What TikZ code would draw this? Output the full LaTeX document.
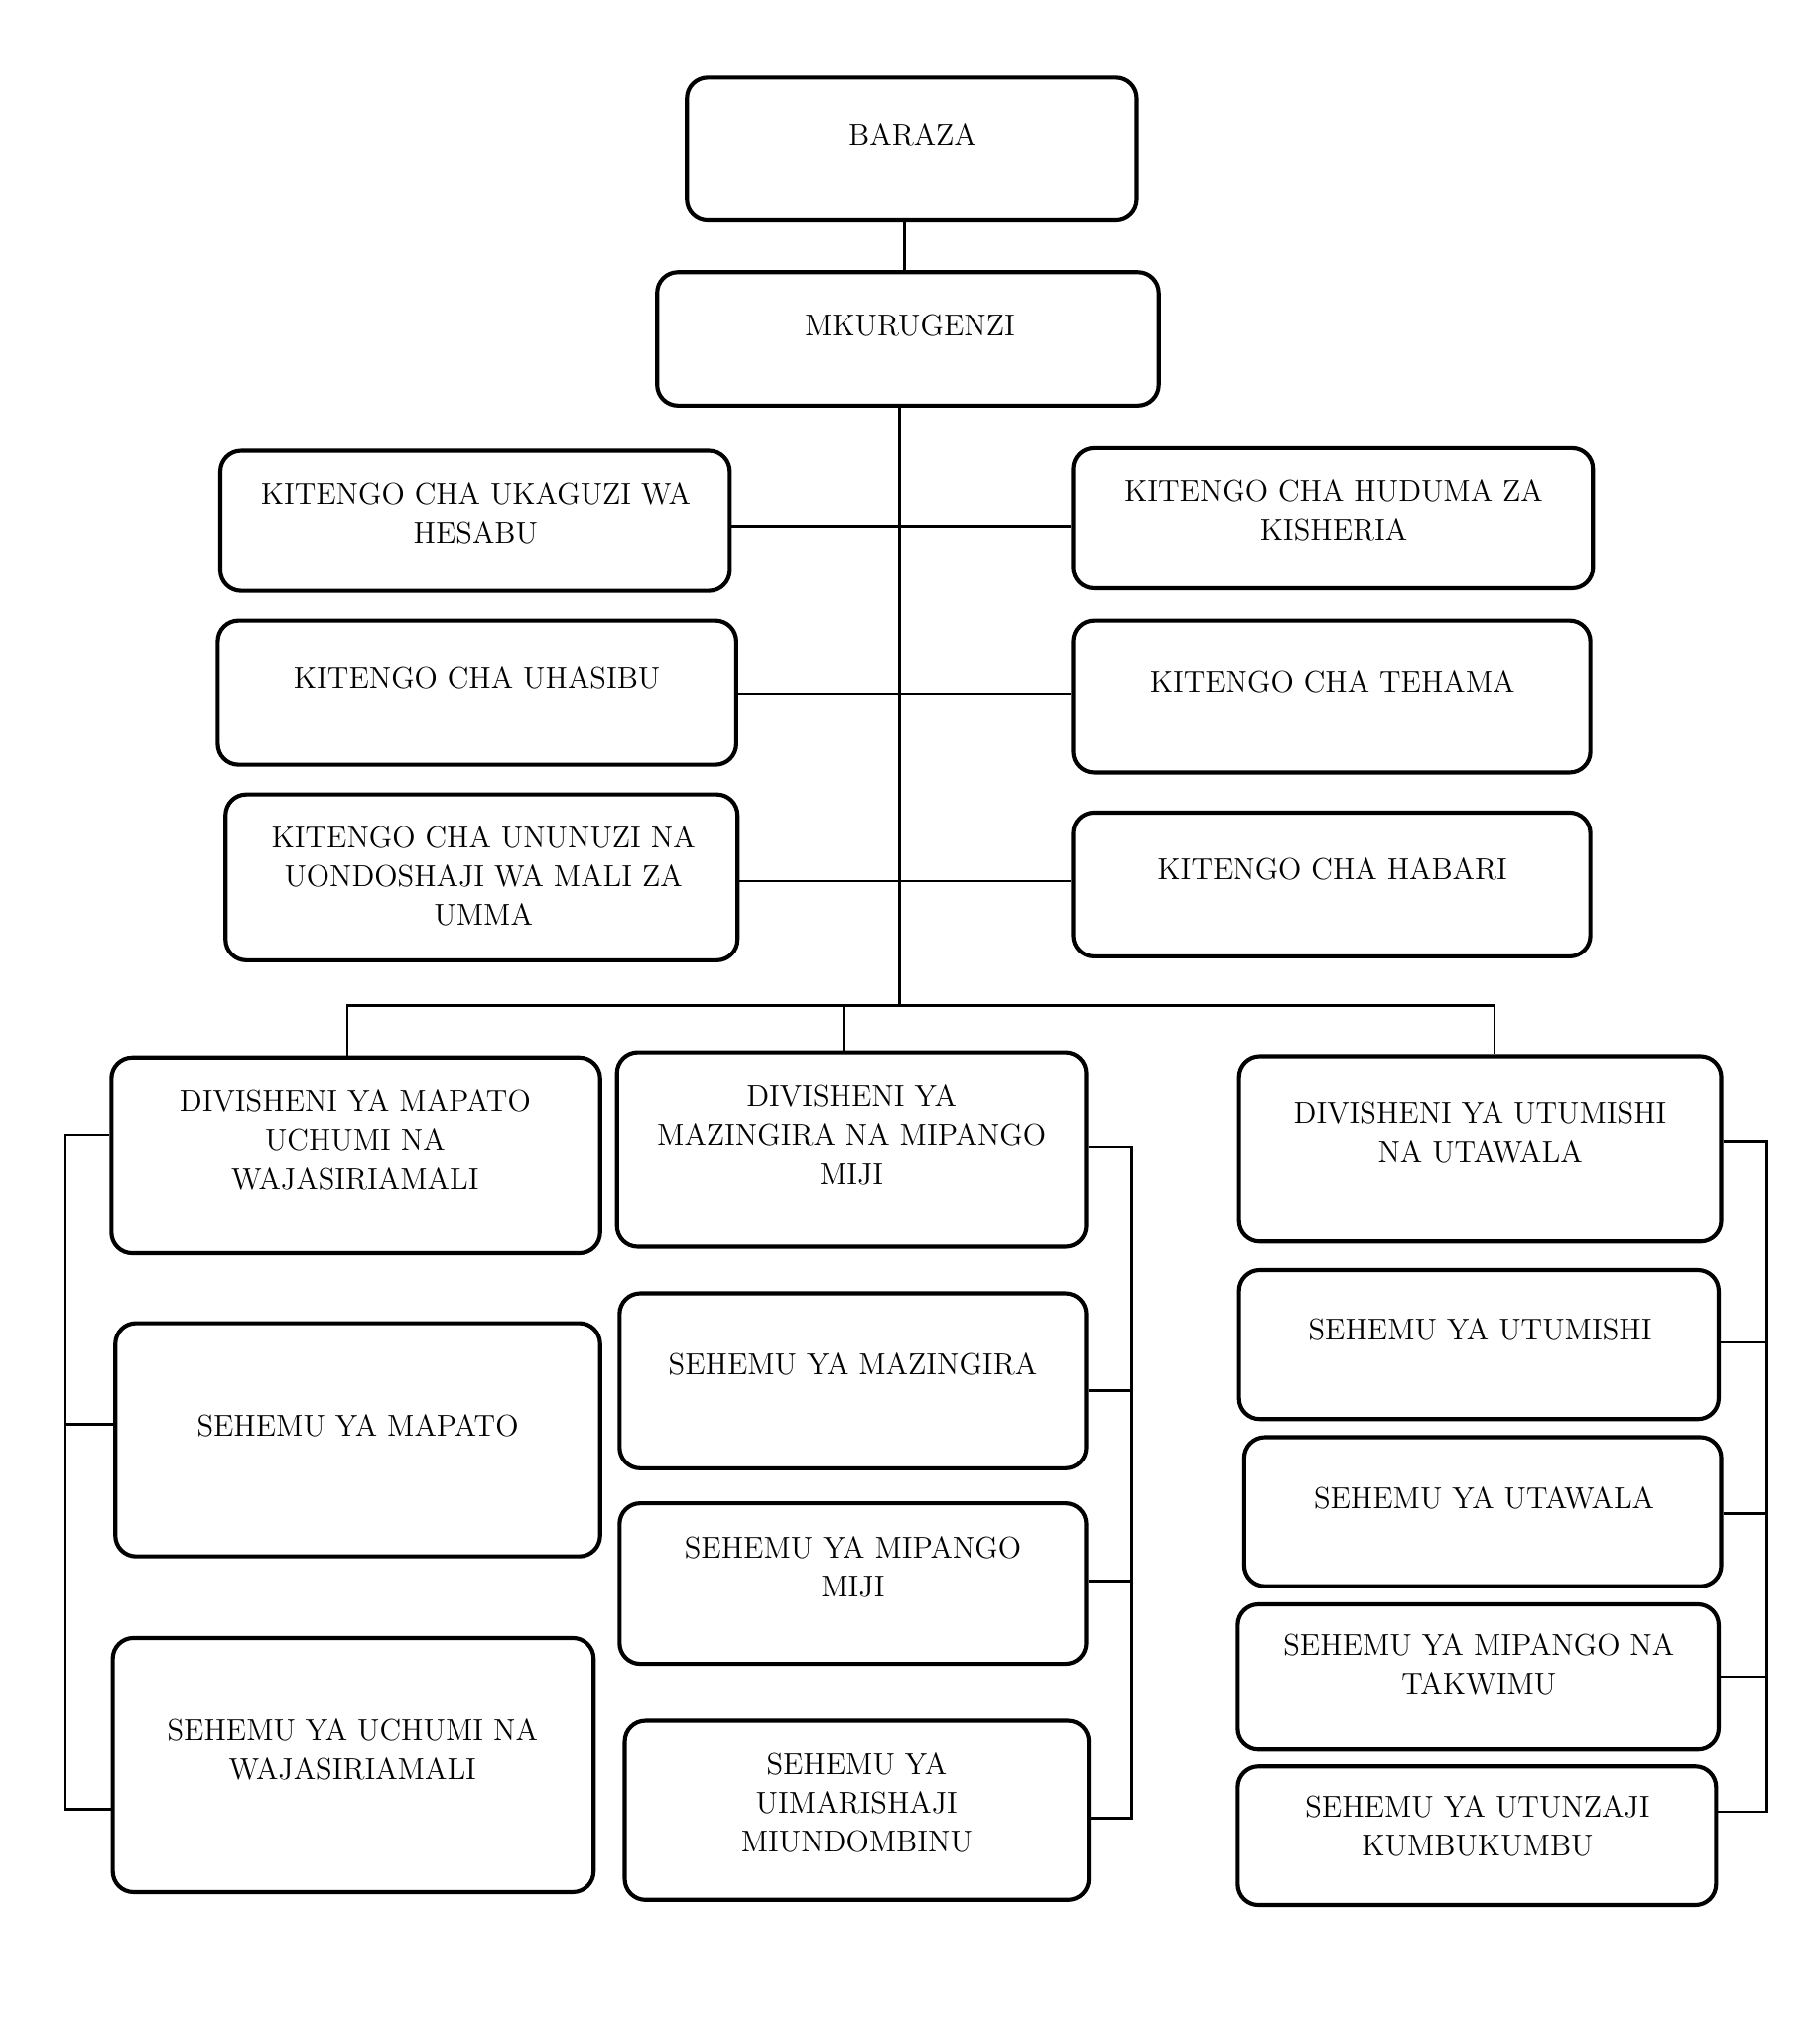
\documentclass[tikz,border=0pt]{standalone}
\usetikzlibrary{fit}

\tikzset{
  box/.style={draw, line width=1.8pt, rounded corners=0.32cm, inner sep=0pt},
  txt/.style={align=center, inner sep=0pt, font=\fontsize{13.3}{17}\selectfont},
  link/.style={line width=1.1pt}
}

\begin{document}
\begin{tikzpicture}[x=0.02cm, y=-0.02cm]
    \useasboundingbox (0,0) rectangle (1404,1568);

    % Draw the top of the chart
    \node[box, fit={(530,60) (877,170)}] (baraza) {};
    \node[txt] (baraza-t) at (704,104) {BARAZA};
    \node[box, fit={(507,210) (894,313)}] (mkurugenzi) {};
    \node[txt] (mkurugenzi-t) at (702,251) {MKURUGENZI};
    \draw[link] (698,0 |- baraza.south) -- (698,0 |- mkurugenzi.north);

    % Draw the units on the left
    \node[box, fit={(170,348) (563,456)}] (ukaguzi) {};
    \node[txt] (ukaguzi-t) at (367,396) {KITENGO CHA UKAGUZI WA\\HESABU};
    \node[box, fit={(168,479) (568,590)}] (uhasibu) {};
    \node[txt] (uhasibu-t) at (368,523) {KITENGO CHA UHASIBU};
    \node[box, fit={(174,613) (569,741)}] (ununuzi) {};
    \node[txt] (ununuzi-t) at (373,676) {KITENGO CHA UNUNUZI NA\\UONDOSHAJI WA MALI ZA\\UMMA};

    % Draw the units on the right
    \node[box, fit={(828,346) (1229,454)}] (huduma) {};
    \node[txt] (huduma-t) at (1029,394) {KITENGO CHA HUDUMA ZA\\KISHERIA};
    \node[box, fit={(828,479) (1227,596)}] (tehama) {};
    \node[txt] (tehama-t) at (1028,526) {KITENGO CHA TEHAMA};
    \node[box, fit={(828,627) (1227,738)}] (habari) {};
    \node[txt] (habari-t) at (1028,671) {KITENGO CHA HABARI};

    % Draw the trunk and the unit links
    \coordinate (bus) at (694,776);
    \draw[link] (mkurugenzi.south -| bus) -- (bus);
    \draw[link] (ukaguzi.east |- 0,406) -- (huduma.west |- 0,406);
    \draw[link] (uhasibu.east |- 0,535) -- (tehama.west |- 0,535);
    \draw[link] (ununuzi.east |- 0,680) -- (habari.west |- 0,680);

    % Draw the divisions
    \node[box, fit={(86,816) (463,967)}] (dmapato) {};
    \node[txt] (dmapato-t) at (274,880) {DIVISHENI YA MAPATO\\UCHUMI NA\\WAJASIRIAMALI};
    \node[box, fit={(476,812) (838,962)}] (dmazingira) {};
    \node[txt] (dmazingira-t) at (657,876) {DIVISHENI YA\\MAZINGIRA NA MIPANGO\\MIJI};
    \node[box, fit={(956,815) (1328,958)}] (dutumishi) {};
    \node[txt] (dutumishi-t) at (1142,874) {DIVISHENI YA UTUMISHI\\NA UTAWALA};
    \draw[link] (268,0 |- dmapato.north) |- (bus) -| (1153,0 |- dutumishi.north);
    \draw[link] (651,0 |- dmazingira.north) -- (651,0 |- bus);

    % Draw the sections under the first division
    \node[box, fit={(89,1021) (463,1201)}] (smapato) {};
    \node[txt] (smapato-t) at (276,1100) {SEHEMU YA MAPATO};
    \node[box, fit={(87,1264) (458,1460)}] (suchumi) {};
    \node[txt] (suchumi-t) at (272,1350) {SEHEMU YA UCHUMI NA\\WAJASIRIAMALI};
    \coordinate (lbar) at (50,876);
    \draw[link] (dmapato.west |- lbar) -- (lbar) |- (suchumi.west |- 0,1396);
    \draw[link] (smapato.west |- 0,1099) -- (lbar |- 0,1099);

    % Draw the sections under the second division
    \node[box, fit={(478,998) (838,1133)}] (smazingira) {};
    \node[txt] (smazingira-t) at (658,1053) {SEHEMU YA MAZINGIRA};
    \node[box, fit={(478,1160) (838,1284)}] (smipangomiji) {};
    \node[txt] (smipangomiji-t) at (658,1209) {SEHEMU YA MIPANGO\\MIJI};
    \node[box, fit={(482,1328) (840,1466)}] (suimarishaji) {};
    \node[txt] (suimarishaji-t) at (661,1391) {SEHEMU YA\\UIMARISHAJI\\MIUNDOMBINU};
    \coordinate (mbar) at (873,885);
    \draw[link] (dmazingira.east |- mbar) -- (mbar) |- (suimarishaji.east |- 0,1403);
    \draw[link] (smazingira.east |- 0,1073) -- (mbar |- 0,1073);
    \draw[link] (smipangomiji.east |- 0,1220) -- (mbar |- 0,1220);

    % Draw the sections under the third division
    \node[box, fit={(956,980) (1326,1095)}] (sutumishi) {};
    \node[txt] (sutumishi-t) at (1142,1026) {SEHEMU YA UTUMISHI};
    \node[box, fit={(960,1109) (1328,1224)}] (sutawala) {};
    \node[txt] (sutawala-t) at (1145,1156) {SEHEMU YA UTAWALA};
    \node[box, fit={(955,1238) (1326,1350)}] (stakwimu) {};
    \node[txt] (stakwimu-t) at (1141,1284) {SEHEMU YA MIPANGO NA\\TAKWIMU};
    \node[box, fit={(955,1363) (1324,1470)}] (sutunzaji) {};
    \node[txt] (sutunzaji-t) at (1140,1409) {SEHEMU YA UTUNZAJI\\KUMBUKUMBU};
    \coordinate (rbar) at (1363,881);
    \draw[link] (dutumishi.east |- rbar) -- (rbar) |- (sutunzaji.east |- 0,1398);
    \draw[link] (sutumishi.east |- 0,1036) -- (rbar |- 0,1036);
    \draw[link] (sutawala.east |- 0,1168) -- (rbar |- 0,1168);
    \draw[link] (stakwimu.east |- 0,1294) -- (rbar |- 0,1294);
\end{tikzpicture}
\end{document}
